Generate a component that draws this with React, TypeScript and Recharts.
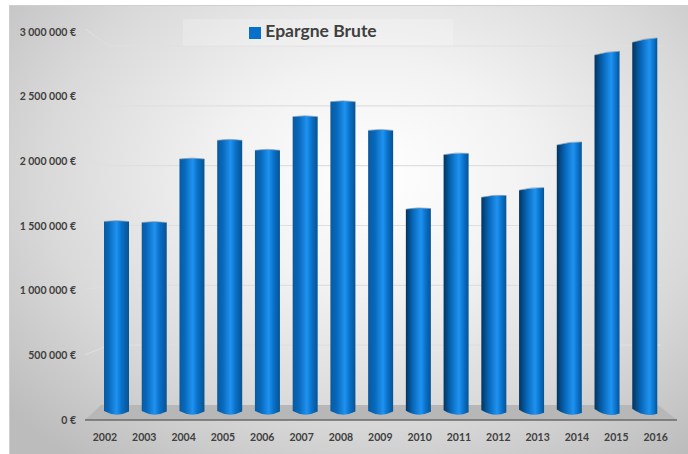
import { BarChart, Bar, XAxis, YAxis, CartesianGrid, Legend, ReferenceArea } from "recharts"

const years = ["2002", "2003", "2004", "2005", "2006", "2007", "2008", "2009", "2010", "2011", "2012", "2013", "2014", "2015", "2016"]
const epargneBrute = [1538000, 1530000, 2040000, 2190000, 2110000, 2380000, 2500000, 2270000, 1640000, 2080000, 1740000, 1800000, 2165000, 2890000, 2995000]
const yTicks = [0, 500000, 1000000, 1500000, 2000000, 2500000, 3000000]

const chartData = years.map((year, i) => ({ year, value: epargneBrute[i] }))

// plot box (middle of the 3D depth)
const PLOT_TOP = 38
const PLOT_BOTTOM = 411.5
const PLOT_LEFT = 97
const PLOT_RIGHT = 663
const CENTER_X = 380
const LEGEND_HEIGHT = 27

// the back wall and the front edge have their own vertical scale
const toDepth = (y: number, top: number, bottom: number) =>
  top + ((y - PLOT_TOP) / (PLOT_BOTTOM - PLOT_TOP)) * (bottom - top)

const formatEuro = (v: number) => `${String(v).replace(/\B(?=(\d{3})+$)/g, " ")} €`

function GridLine(props: any) {
  const { y1 } = props
  const backY = toDepth(y1, 45, 404)
  const frontY = toDepth(y1, 28, 419)
  if (y1 > PLOT_BOTTOM - 1) return <g />
  return (
    <g>
      <line x1={84} y1={frontY} x2={108} y2={backY} stroke="#dfdfdf" />
      <line x1={108} y1={backY} x2={660} y2={backY} stroke="#dfdfdf" strokeWidth={1.2} />
    </g>
  )
}

function YTick({ y, payload }: any) {
  return (
    <text x={75} y={toDepth(y, 31, 419)} dy={3.5} textAnchor="end" fontFamily="Lato" fontWeight={700} fontSize={10.5} fill="#404040">
      {formatEuro(payload.value)}
    </text>
  )
}

function XTick({ x, payload }: any) {
  const frontX = CENTER_X - 0.7 + (x - CENTER_X) * (39.3 / 37.7)
  return (
    <text x={frontX} y={436} dy={4} textAnchor="middle" fontFamily="Lato" fontWeight={700} fontSize={10.5} fill="#404040">
      {payload.value}
    </text>
  )
}

function Floor({ x, y, width, height }: any) {
  const base = y + height
  const right = x + width
  return (
    <g>
      <polygon
        points={`${x + 3},${base - 7.5} ${right - 6},${base - 7.5} ${right + 13},${base + 7.5} ${x - 13},${base + 7.5}`}
        fill="#b7b7b7"
      />
      <line x1={x - 13} y1={base + 7.5} x2={right + 13} y2={base + 7.5} stroke="#6a6a6a" strokeWidth={1.5} />
    </g>
  )
}

function Cylinder({ x, y, width, height, index }: any) {
  const cx = x + width / 2
  const t = (cx - 116) / (644 - 116)
  // tops lean more towards the right of the chart, left ones are almost flat
  const tilt = Math.max(0, (cx - CENTER_X) / 264) * 2.2
  const bottom = y + height
  const id = `cyl-${index}`
  const highlight = 50 + t * 18
  const darkEdge = t > 0.5 ? "#03345f" : "#0a5a9e"
  const body = `M${x},${y + 0.5 + tilt} Q${cx},${y - 1} ${x + width},${y + 0.5 - tilt}
    L${x + width},${bottom - 1 + tilt} Q${cx},${bottom + 5.5} ${x},${bottom - 1.5 - tilt} Z`
  return (
    <g>
      <defs>
        <linearGradient id={id} x1="0" y1="0" x2="1" y2="0">
          <stop offset="0%" stopColor={darkEdge} />
          <stop offset={`${highlight - 32}%`} stopColor="#0768bb" />
          <stop offset={`${highlight}%`} stopColor="#1f92f0" />
          <stop offset={`${highlight + 20}%`} stopColor="#0870c8" />
          <stop offset="100%" stopColor="#09528f" />
        </linearGradient>
      </defs>
      <path d={body} fill={`url(#${id})`} />
      <path d={`M${x},${y + 0.5 + tilt} Q${cx},${y - 1.5} ${x + width},${y + 0.5 - tilt}`} fill="none" stroke="#8a9db0" strokeWidth={0.7} />
    </g>
  )
}

export default function App() {
  return (
    <div
      style={{
        position: "absolute",
        left: 9,
        top: 5,
        width: 679,
        height: 449,
        borderTop: "1px solid #cfcfcf",
        borderLeft: "1px solid #cfcfcf",
        boxSizing: "border-box",
        background: "radial-gradient(ellipse 72% 80% at 54% 38%, #ffffff 0%, #f2f2f2 32%, #d9d9d9 68%, #bcbcbc 100%)",
      }}
    >
      <div style={{ position: "absolute", left: -9, top: -5 }}>
        <BarChart
          width={688}
          height={454}
          data={chartData}
          barSize={25}
          margin={{ top: PLOT_TOP - LEGEND_HEIGHT, bottom: 454 - PLOT_BOTTOM - 1, left: PLOT_LEFT - 1, right: 688 - PLOT_RIGHT }}
        >
          <CartesianGrid vertical={false} horizontal={(p: any) => <GridLine key={p.key} {...p} />} />
          <ReferenceArea y1={0} y2={100000} ifOverflow="visible" shape={Floor} />
          <XAxis dataKey="year" height={1} axisLine={false} tickLine={false} interval={0} tick={XTick} />
          <YAxis width={1} domain={[0, 3000000]} ticks={yTicks} axisLine={false} tickLine={false} interval={0} tick={YTick} />
          <Legend
            verticalAlign="top"
            iconType="square"
            iconSize={12}
            wrapperStyle={{ left: 182, top: 18, width: 270, height: LEGEND_HEIGHT, background: "rgba(255,255,255,0.2)", lineHeight: "24px" }}
            formatter={(name: string) => (
              <span style={{ fontFamily: "Lato", fontWeight: 700, fontSize: 17.5, color: "#404040" }}>{name}</span>
            )}
          />
          <Bar dataKey="value" name="Epargne Brute" fill="#0870c8" shape={Cylinder} isAnimationActive={false} />
        </BarChart>
      </div>
    </div>
  )
}
